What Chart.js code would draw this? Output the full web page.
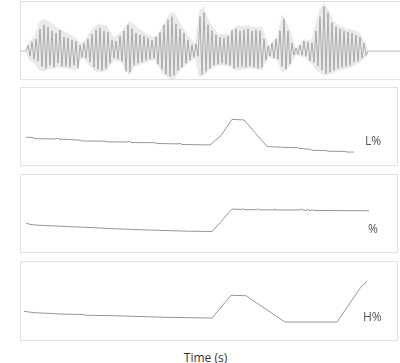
<!DOCTYPE html>
<html>
<head>
<meta charset="utf-8">
<script src="https://cdn.jsdelivr.net/npm/chart.js@4/dist/chart.umd.min.js"></script>
<style>
    html, body { margin: 0; padding: 0; background: #fff; overflow: hidden; }
    body { width: 400px; height: 363px; position: relative; font-family: 'Open Sans', sans-serif; }
    canvas { position: absolute; }
    .tag { position: absolute; font-size: 12px; color: #555; line-height: 1; }
    #time { position: absolute; left: 0; width: 411px; top: 349px; text-align: center; font-size: 12px; color: #333; }
</style>
</head>
<body>
<canvas id="wave" width="381" height="79" style="left:20px; top:1px"></canvas>
<canvas id="low" width="378" height="79" style="left:20px; top:87px"></canvas>
<canvas id="mid" width="378" height="79" style="left:20px; top:174px"></canvas>
<canvas id="high" width="378" height="80" style="left:20px; top:261px"></canvas>
<div class="tag" style="left:365px; top:135px">L%</div>
<div class="tag" style="left:368px; top:223px">%</div>
<div class="tag" style="left:363px; top:311px">H%</div>
<div id="time">Time (s)</div>
<script>
// waveform: amplitude envelope and samples (10 ms apart, starting at 0.03 s)
const envTimes = [0.03, 0.045, 0.07, 0.095, 0.12, 0.145, 0.17, 0.195, 0.22, 0.245, 0.28, 0.305, 0.32, 0.345, 0.37, 0.395,
    0.435, 0.47, 0.505, 0.545, 0.57, 0.595, 0.62, 0.645, 0.67, 0.695, 0.71, 0.745, 0.77, 0.795, 0.82, 0.845, 0.875,
    0.895, 0.92, 0.945, 0.97, 0.995, 1.045, 1.08, 1.12, 1.145, 1.18, 1.21, 1.23, 1.245, 1.285, 1.31, 1.345, 1.38,
    1.42, 1.455, 1.475, 1.495, 1.52, 1.545, 1.57, 1.595, 1.645, 1.695, 1.73, 1.745]
const envTop = [0, 10, 14, 29, 32, 30, 26, 22, 20, 17, 13, 8, 10, 18, 24, 27,
    25, 14, 19, 30, 27, 22, 19, 16, 14, 18, 24, 37, 39, 30, 22, 14, 8,
    40, 44, 30, 22, 17, 17, 25, 25, 25, 24, 24, 14, 6, 14, 37, 24, 3,
    12, 11, 25, 40, 49, 40, 30, 25, 22, 19, 7, 0]
const envBottom = [0, -9, -12, -19, -20, -18, -17, -16, -17, -18, -19, -8, -8, -14, -19, -21,
    -19, -9, -11, -24, -16, -14, -12, -10, -9, -16, -22, -27, -28, -21, -15, -11, -7,
    -26, -24, -19, -16, -14, -15, -19, -18, -17, -18, -19, -10, -6, -9, -21, -16, -4,
    -6, -12, -17, -21, -24, -23, -21, -19, -17, -12, -6, 0]
const waveStart = 0.03
const waveStep = 0.01
const waveSamples = [
    0, 6, -5, 9, -8, 12, -10, 22, -15, 26,
    -17, 24, -14, 20, -16, 18, -12, 21, -15, 14,
    -15, 13, -16, 11, -14, 10, -17, 6, -6, 8,
    -7, 12, -11, 17, -16, 21, -18, 23, -19, 20,
    -17, 19, -12, 11, -7, 10, -8, 15, -10, 20,
    -20, 26, -21, 22, -14, 18, -12, 16, -11, 15,
    -9, 13, -8, 11, -7, 14, -13, 19, -18, 26,
    -23, 31, -25, 34, -24, 27, -19, 22, -16, 18,
    -12, 11, -9, 6, -6, 7, -5, 34, -23, 38,
    -20, 26, -17, 20, -14, 16, -13, 14, -12, 13,
    -13, 15, -14, 21, -17, 22, -16, 20, -15, 21,
    -16, 22, -15, 20, -16, 21, -17, 20, -16, 12,
    -9, 5, -5, 8, -7, 12, -8, 20, -15, 32,
    -18, 20, -13, 8, -4, 3, -3, 6, -4, 10,
    -5, 9, -10, 8, -11, 20, -15, 34, -19, 44,
    -22, 38, -21, 28, -19, 24, -17, 22, -16, 20,
    -15, 19, -14, 18, -11, 16, -10, 14, -7, 8,
    -4, 0
]
const silenceTimes = [0, 0.03, 0.9, 1.745, 1.905]
const silenceValues = [0, 0, null, 0, 0]

// L% track
const lowTimes = [0.03, 0.06, 0.075, 0.18, 0.19, 0.2, 0.21, 0.3, 0.31, 0.425, 0.435, 0.535, 0.545, 0.555, 0.675,
    0.685, 0.79, 0.8, 0.81, 0.95, 1.005, 1.06, 1.12, 1.175, 1.235, 1.27, 1.375, 1.385, 1.395, 1.45, 1.46, 1.53,
    1.54, 1.625, 1.635, 1.67]
const lowValues = [36.3, 36.3, 34.6, 34.2, 35.3, 33.3, 34, 32.7, 31.7, 31.4, 30.5, 30.4, 31.3, 29.7, 29.5,
    28.5, 28, 28.7, 27.2, 26.7, 38.5, 59, 58.3, 42.3, 24.7, 24.1, 23.1, 23.8, 22.3, 21.2, 19.9, 19.5,
    18.7, 18.5, 17.7, 17.6]

// % track
const midTimes = [0.03, 0.045, 0.08, 0.215, 0.355, 0.46, 0.595, 0.72, 0.845, 0.96, 1.005, 1.055, 1.065, 1.11,
    1.115, 1.12, 1.185, 1.19, 1.195, 1.27, 1.275, 1.28, 1.4, 1.405, 1.415, 1.425, 1.44, 1.45, 1.46, 1.47, 1.48, 1.745]
const midValues = [38.1, 36.5, 35.3, 33.8, 32.2, 30.8, 29.5, 28.5, 27.6, 27.2, 39.7, 54.5, 55.6, 55.1,
    56.4, 54.7, 54.9, 56.2, 54.6, 54.6, 55.9, 54.4, 54.5, 55.9, 54.7, 53.8, 55.1, 53.5, 54.9, 53.6, 53.8, 53.5]

// H% track
const highTimes = [0.02, 0.07, 0.225, 0.315, 0.325, 0.47, 0.63, 0.735, 0.845, 0.96, 1.055, 1.13, 1.325, 1.585,
    1.7, 1.715, 1.735]
const highValues = [37.1, 35.4, 33.5, 33.2, 32.2, 31.6, 30.4, 29.6, 29.1, 28.7, 57.2, 56.6, 23.7, 23.7,
    65.8, 70.3, 74.1]

const points = (xs, ys) => xs.map((x, i) => ({ x: x, y: ys[i] }))

const boxPlugin = {
    id: 'box',
    beforeDatasetsDraw: chart => {
        const { ctx, chartArea: a } = chart
        ctx.save()
        ctx.strokeStyle = '#e2e2e2'
        ctx.lineWidth = 1
        ctx.strokeRect(a.left + 0.5, a.top + 0.5, a.right - a.left - 1, a.bottom - a.top - 1)
        ctx.restore()
    }
}

const makeChart = (id, datasets, xMax, yMin, yMax) => new Chart(document.getElementById(id), {
    type: 'line',
    data: { datasets: datasets },
    options: {
        responsive: false,
        animation: false,
        devicePixelRatio: 1,
        layout: { padding: 0 },
        plugins: { legend: { display: false }, tooltip: { enabled: false } },
        elements: { point: { radius: 0 }, line: { tension: 0 } },
        scales: {
            x: { type: 'linear', display: false, min: 0, max: xMax },
            y: { display: false, min: yMin, max: yMax }
        }
    },
    plugins: [boxPlugin]
})

const track = (xs, ys) => ({
    data: points(xs, ys),
    borderColor: '#979797',
    borderWidth: 1,
    fill: false
})

const waveTimes = waveSamples.map((v, i) => waveStart + i * waveStep)

// lower order is drawn on top, so the samples sit over the envelope fill
makeChart('wave', [
    { data: points(waveTimes, waveSamples), borderColor: '#9a9a9a', borderWidth: 0.8, fill: false, order: 0 },
    { data: points(silenceTimes, silenceValues), borderColor: '#bdbdbd', borderWidth: 1, fill: false, spanGaps: false, order: 0 },
    { data: points(envTimes, envTop), borderWidth: 0, borderColor: 'rgba(0,0,0,0)', backgroundColor: '#ebebeb', fill: '+1', order: 2 },
    { data: points(envTimes, envBottom), borderWidth: 0, borderColor: 'rgba(0,0,0,0)', fill: false, order: 3 }
], 1.905, -28.5, 49.5)

makeChart('low', [track(lowTimes, lowValues)], 1.89, 0, 100)
makeChart('mid', [track(midTimes, midValues)], 1.89, 0, 100)
makeChart('high', [track(highTimes, highValues)], 1.89, 0, 100)
</script>
</body>
</html>
